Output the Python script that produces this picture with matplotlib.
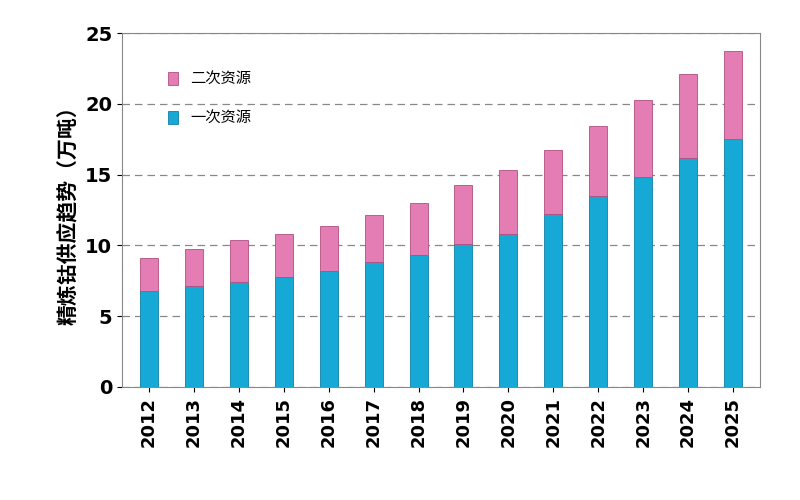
import matplotlib
matplotlib.use("Agg")
import matplotlib.pyplot as plt
from matplotlib import font_manager as fm
import numpy as np

years = ["2012","2013","2014","2015","2016","2017","2018","2019","2020","2021","2022","2023","2024","2025"]
primary = [6.8,7.1,7.4,7.8,8.2,8.8,9.3,10.1,10.8,12.2,13.5,14.8,16.2,17.5]
secondary = [2.3,2.65,3.0,3.0,3.2,3.35,3.7,4.2,4.5,4.55,4.95,5.5,5.9,6.2]

names = {f.name for f in fm.fontManager.ttflist}
cjk = [n for n in ["Noto Sans CJK SC","Noto Sans CJK JP","Noto Sans CJK TC","Noto Sans CJK KR","Noto Sans SC"] if n in names]
if not cjk:
    cjk = [f.name for f in fm.fontManager.ttflist if "CJK" in f.name][:1]
plt.rcParams["font.family"] = ["DejaVu Sans"] + cjk
fig = plt.figure(figsize=(8,5), dpi=100)
ax = fig.add_axes([0.1525, 0.226, 0.7975, 0.708])
x = np.arange(len(years))
b1 = ax.bar(x, primary, width=0.4, color="#17A9D6", edgecolor="#0E7FA6", linewidth=0.6, label="一次资源", zorder=3)
b2 = ax.bar(x, secondary, bottom=primary, width=0.4, color="#E37DB3", edgecolor="#B0507F", linewidth=0.6, label="二次资源", zorder=3)
ax.set_ylim(0,25)
ax.set_xlim(-0.6, len(years)-0.4)
ax.set_yticks(range(0,26,5))
ax.yaxis.grid(True, linestyle=(0,(6,4)), color="#888888", linewidth=0.9, zorder=0)
ax.set_xticks(x)
ax.set_xticklabels(years, rotation=90, fontsize=13, fontweight="bold")
ax.tick_params(axis="y", labelsize=14)
for lab in ax.get_yticklabels():
    lab.set_fontweight("bold")
ax.set_ylabel("精炼钴供应趋势（万吨）", fontsize=15, fontweight="bold")
for s in ax.spines.values():
    s.set_color("#888888")
ax.legend(handles=[b2, b1], loc="upper left", bbox_to_anchor=(0.05,0.93), frameon=False, fontsize=11, handlelength=0.7, handleheight=0.9, labelspacing=1.6)
fig.savefig("out.png", dpi=100)
